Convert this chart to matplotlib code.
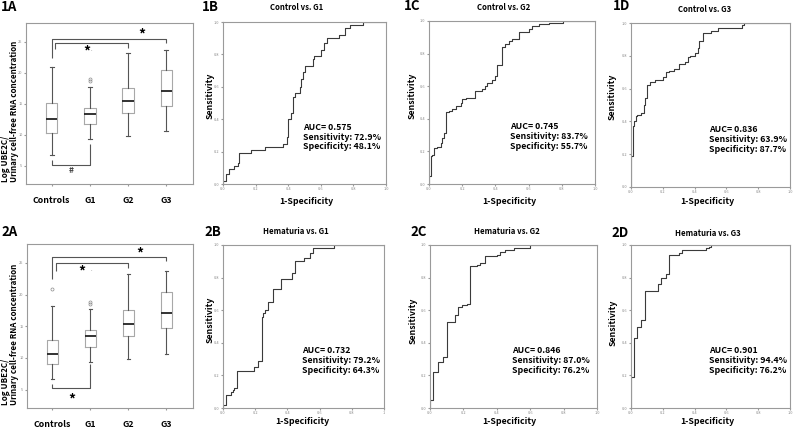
import matplotlib
matplotlib.use("Agg")
import matplotlib.pyplot as plt

plt.rcParams["font.family"] = ["Noto Sans CJK KR", "DejaVu Sans"]

W, H = 795, 429

# ── data ─────────────────────────────────────────────────────────────────────
categories = ["Controls", "G1", "G2", "G3"]
box_yticks = [5, 10, 15, 20, 25]

# 1A  (Controls, G1, G2, G3)
box1_lo = [6.7, 9.3, 9.9, 10.6]
box1_q1 = [10.3, 11.8, 13.5, 14.7]
box1_med = [12.6, 13.4, 15.5, 17.1]
box1_q3 = [15.2, 14.4, 17.6, 20.4]
box1_hi = [20.9, 17.7, 23.2, 23.7]
box1_out = [[], [18.6, 19.0], [], []]

# 2A
box2_lo = [6.7, 9.3, 9.8, 10.6]
box2_q1 = [9.1, 11.8, 13.5, 14.7]
box2_med = [10.6, 13.4, 15.4, 17.1]
box2_q3 = [12.9, 14.4, 17.6, 20.4]
box2_hi = [18.2, 17.7, 23.3, 23.7]
box2_out = [[20.9], [18.5, 18.9], [], []]

# ROC curves (fpr = 1-specificity, tpr = sensitivity)
roc1b_fpr = [0, 0, 0.02, 0.035, 0.07, 0.09, 0.10, 0.17, 0.26, 0.37, 0.39, 0.40, 0.42, 0.43,
             0.44, 0.47, 0.48, 0.49, 0.50, 0.55, 0.56, 0.60, 0.62, 0.64, 0.71, 0.75, 0.78, 0.86, 1.0]
roc1b_tpr = [0, 0.02, 0.06, 0.09, 0.11, 0.13, 0.19, 0.21, 0.23, 0.25, 0.29, 0.40, 0.44, 0.54,
             0.56, 0.60, 0.65, 0.69, 0.73, 0.77, 0.79, 0.83, 0.87, 0.90, 0.92, 0.96, 0.98, 1.0, 1.0]

roc1c_fpr = [0, 0, 0.01, 0.015, 0.02, 0.03, 0.05, 0.07, 0.08, 0.09, 0.10, 0.12, 0.14, 0.16,
             0.19, 0.20, 0.22, 0.28, 0.32, 0.34, 0.35, 0.38, 0.40, 0.41, 0.44, 0.46, 0.48, 0.50,
             0.54, 0.60, 0.62, 0.66, 0.72, 0.81, 1.0]
roc1c_tpr = [0, 0.05, 0.10, 0.17, 0.18, 0.22, 0.23, 0.25, 0.28, 0.31, 0.44, 0.45, 0.46, 0.48,
             0.50, 0.52, 0.53, 0.57, 0.58, 0.60, 0.62, 0.64, 0.66, 0.73, 0.84, 0.86, 0.88, 0.89,
             0.93, 0.95, 0.97, 0.98, 0.99, 1.0, 1.0]

roc1d_fpr = [0, 0, 0.01, 0.015, 0.02, 0.03, 0.04, 0.06, 0.08, 0.09, 0.10, 0.12, 0.15, 0.20,
             0.22, 0.24, 0.27, 0.30, 0.34, 0.36, 0.37, 0.40, 0.42, 0.43, 0.45, 0.50, 0.55, 0.70,
             0.71, 1.0]
roc1d_tpr = [0, 0.19, 0.27, 0.37, 0.40, 0.43, 0.44, 0.45, 0.50, 0.54, 0.62, 0.64, 0.65, 0.67,
             0.70, 0.71, 0.72, 0.75, 0.76, 0.79, 0.80, 0.82, 0.85, 0.89, 0.94, 0.95, 0.97, 0.99,
             1.0, 1.0]

roc2b_fpr = [0, 0, 0.02, 0.05, 0.06, 0.07, 0.09, 0.19, 0.22, 0.24, 0.25, 0.26, 0.28, 0.31,
             0.36, 0.43, 0.45, 0.50, 0.54, 0.56, 0.69, 1.0]
roc2b_tpr = [0, 0.02, 0.08, 0.10, 0.11, 0.12, 0.23, 0.25, 0.29, 0.56, 0.58, 0.60, 0.65, 0.73,
             0.79, 0.83, 0.90, 0.92, 0.95, 0.98, 1.0, 1.0]

roc2c_fpr = [0, 0, 0.02, 0.05, 0.08, 0.10, 0.15, 0.17, 0.19, 0.22, 0.24, 0.28, 0.30, 0.33,
             0.40, 0.42, 0.45, 0.50, 0.60, 1.0]
roc2c_tpr = [0, 0.05, 0.22, 0.28, 0.31, 0.53, 0.57, 0.62, 0.63, 0.64, 0.87, 0.88, 0.89, 0.93,
             0.94, 0.96, 0.97, 0.98, 1.0, 1.0]

roc2d_fpr = [0, 0, 0.02, 0.04, 0.06, 0.09, 0.17, 0.19, 0.22, 0.24, 0.30, 0.32, 0.47, 0.49, 0.50, 1.0]
roc2d_tpr = [0, 0.19, 0.43, 0.50, 0.54, 0.72, 0.76, 0.80, 0.82, 0.94, 0.95, 0.97, 0.98, 0.99, 1.0, 1.0]

roc_titles = ["Control vs. G1", "Control vs. G2", "Control vs. G3",
              "Hematuria vs. G1", "Hematuria vs. G2", "Hematuria vs. G3"]
roc_auc = ["0.575", "0.745", "0.836", "0.732", "0.846", "0.901"]
roc_sens = ["72.9%", "83.7%", "63.9%", "79.2%", "87.0%", "94.4%"]
roc_spec = ["48.1%", "55.7%", "87.7%", "64.3%", "76.2%", "76.2%"]

# ── figure ───────────────────────────────────────────────────────────────────
fig = plt.figure(figsize=(W / 100, H / 100), dpi=100)
FRAME = "#9a9a9a"


def px_axes(l, t, r, b):
    return fig.add_axes([l / W, 1 - b / H, (r - l) / W, (b - t) / H])


def ftext(x, y, s, **kw):
    fig.text(x / W, 1 - y / H, s, **kw)


def draw_box(ax, lo, q1, med, q3, hi, outl):
    stats = [dict(whislo=lo[i], q1=q1[i], med=med[i], q3=q3[i], whishi=hi[i], fliers=outl[i])
             for i in range(len(categories))]
    ax.bxp(stats, positions=[1, 2, 3, 4], widths=0.3, capwidths=0.1,
           boxprops=dict(color="#a8a8a8", lw=0.8),
           medianprops=dict(color="#222222", lw=1.3),
           whiskerprops=dict(color="#555555", lw=0.8),
           capprops=dict(color="#555555", lw=0.8),
           flierprops=dict(marker="o", markersize=2.2, markerfacecolor="none",
                           markeredgecolor="#8a8a8a", markeredgewidth=0.5))
    ax.set_xlim(0.33, 4.70)
    ax.set_ylim(2.1, 28.0)
    ax.set_yticks(box_yticks)
    ax.set_yticklabels([str(v) for v in box_yticks], fontsize=2.8, color="#888888")
    ax.set_xticks([1, 2, 3, 4])
    ax.set_xticklabels(categories, fontsize=6.3, fontweight="bold")
    ax.tick_params(axis="x", length=1.5, pad=7.0, color="#999999")
    ax.tick_params(axis="y", length=1.5, pad=1, color="#999999")
    for sp in ax.spines.values():
        sp.set_color(FRAME)
        sp.set_linewidth(0.8)


def bracket(ax, xs, ys, lw=0.8):
    ax.plot(xs, ys, color="#555555", lw=lw, solid_capstyle="butt", clip_on=False)


# 1A
ax = px_axes(26, 23, 193, 184)
draw_box(ax, box1_lo, box1_q1, box1_med, box1_q3, box1_hi, box1_out)
bracket(ax, [1, 1, 4, 4], [22.3, 25.5, 25.5, 24.8])
bracket(ax, [1.09, 1.09, 3, 3], [23.8, 24.8, 24.8, 24.0])
bracket(ax, [1, 1, 2, 2], [6.0, 5.1, 5.1, 8.6])
ax.text(3.35, 26.2, "*", fontsize=10, fontweight="bold", ha="center", va="center")
ax.text(1.93, 23.4, "*", fontsize=10, fontweight="bold", ha="center", va="center")
ax.text(2.04, 23.7, ".", fontsize=4, color="#666666", ha="center", va="center")
ax.text(1.52, 4.3, "#", fontsize=6, fontweight="bold", color="#444444", ha="center", va="center")

# 2A
ax = px_axes(27, 244, 193, 408)
draw_box(ax, box2_lo, box2_q1, box2_med, box2_q3, box2_hi, box2_out)
bracket(ax, [1, 1, 4, 4], [22.55, 25.96, 25.96, 25.3])
bracket(ax, [1.09, 1.09, 3, 3], [23.8, 25.0, 25.0, 24.26])
bracket(ax, [1, 1, 2, 2], [5.9, 5.2, 5.2, 9.1])
ax.text(3.30, 26.5, "*", fontsize=10, fontweight="bold", ha="center", va="center")
ax.text(1.78, 23.6, "*", fontsize=10, fontweight="bold", ha="center", va="center")
ax.text(2.02, 23.9, ".", fontsize=4, color="#666666", ha="center", va="center")
ax.text(1.50, 3.4, "*", fontsize=10, fontweight="bold", ha="center", va="center")

# y labels of the box plots
for yb in (182, 405):
    ftext(6, yb, "Log UBE2C/", rotation=90, ha="center", va="bottom",
          fontsize=5.8, fontweight="bold")
    ftext(15, yb, "Urinary cell-free RNA concentration", rotation=90, ha="center",
          va="bottom", fontsize=5.8, fontweight="bold")

# ROC panels
roc_boxes = [(223, 22, 386, 184), (429, 21, 595, 184), (631, 23, 790, 187),
             (223, 245, 384, 408), (430, 245, 597, 408), (631, 245, 790, 408)]
roc_data = [(roc1b_fpr, roc1b_tpr), (roc1c_fpr, roc1c_tpr), (roc1d_fpr, roc1d_tpr),
            (roc2b_fpr, roc2b_tpr), (roc2c_fpr, roc2c_tpr), (roc2d_fpr, roc2d_tpr)]
title_pos = [(297, 8), (504, 8), (705, 9), (296, 232), (507, 232), (708, 234)]
sens_pos = [(210, 96), (412, 96), (612, 97), (210, 320), (413, 321), (613, 323)]
spec_pos = [(306, 201), (509, 201), (707, 201), (302, 422), (509, 422), (707, 422)]
tick_vals = [0, 0.2, 0.4, 0.6, 0.8, 1.0]

for i, (box, (fpr, tpr)) in enumerate(zip(roc_boxes, roc_data)):
    ax = px_axes(*box)
    ax.plot(fpr, tpr, drawstyle="steps-post", color="#3a3a3a", lw=0.8)
    ax.set_xlim(0, 1)
    ax.set_ylim(0, 1)
    xlabels = [f"{v:.1f}" for v in tick_vals]
    if i == 3:
        xlabels[-1] = "1"
    ax.set_xticks(tick_vals)
    ax.set_xticklabels(xlabels, fontsize=2.8, color="#888888")
    ax.set_yticks(tick_vals)
    ax.set_yticklabels([f"{v:.1f}" for v in tick_vals], fontsize=2.8, color="#888888")
    ax.tick_params(length=1.5, pad=1, color="#999999")
    for sp in ax.spines.values():
        sp.set_color(FRAME)
        sp.set_linewidth(0.8)
    for k, s in enumerate([f"AUC= {roc_auc[i]}", f"Sensitivity: {roc_sens[i]}",
                           f"Specificity: {roc_spec[i]}"]):
        ax.text(0.49, 0.35 - 0.06 * k, s, fontsize=6.3, fontweight="bold",
                ha="left", va="center")
    ftext(*title_pos[i], roc_titles[i], ha="center", va="center", fontsize=5.6,
          fontweight="bold")
    ftext(*sens_pos[i], "Sensitivity", rotation=90, ha="center", va="center",
          fontsize=6.3, fontweight="bold")
    ftext(*spec_pos[i], "1-Specificity", ha="center", va="center", fontsize=6.3,
          fontweight="bold")

# panel letters
panel_pos = {"1A": (1, 7), "1B": (202, 7), "1C": (404, 6), "1D": (613, 6),
             "2A": (1, 232), "2B": (204, 232), "2C": (410, 232), "2D": (611, 233)}
for lab, (x, y) in panel_pos.items():
    ftext(x, y, lab, ha="left", va="center", fontsize=9.5, fontweight="bold")

fig.savefig("out.png", dpi=100)
